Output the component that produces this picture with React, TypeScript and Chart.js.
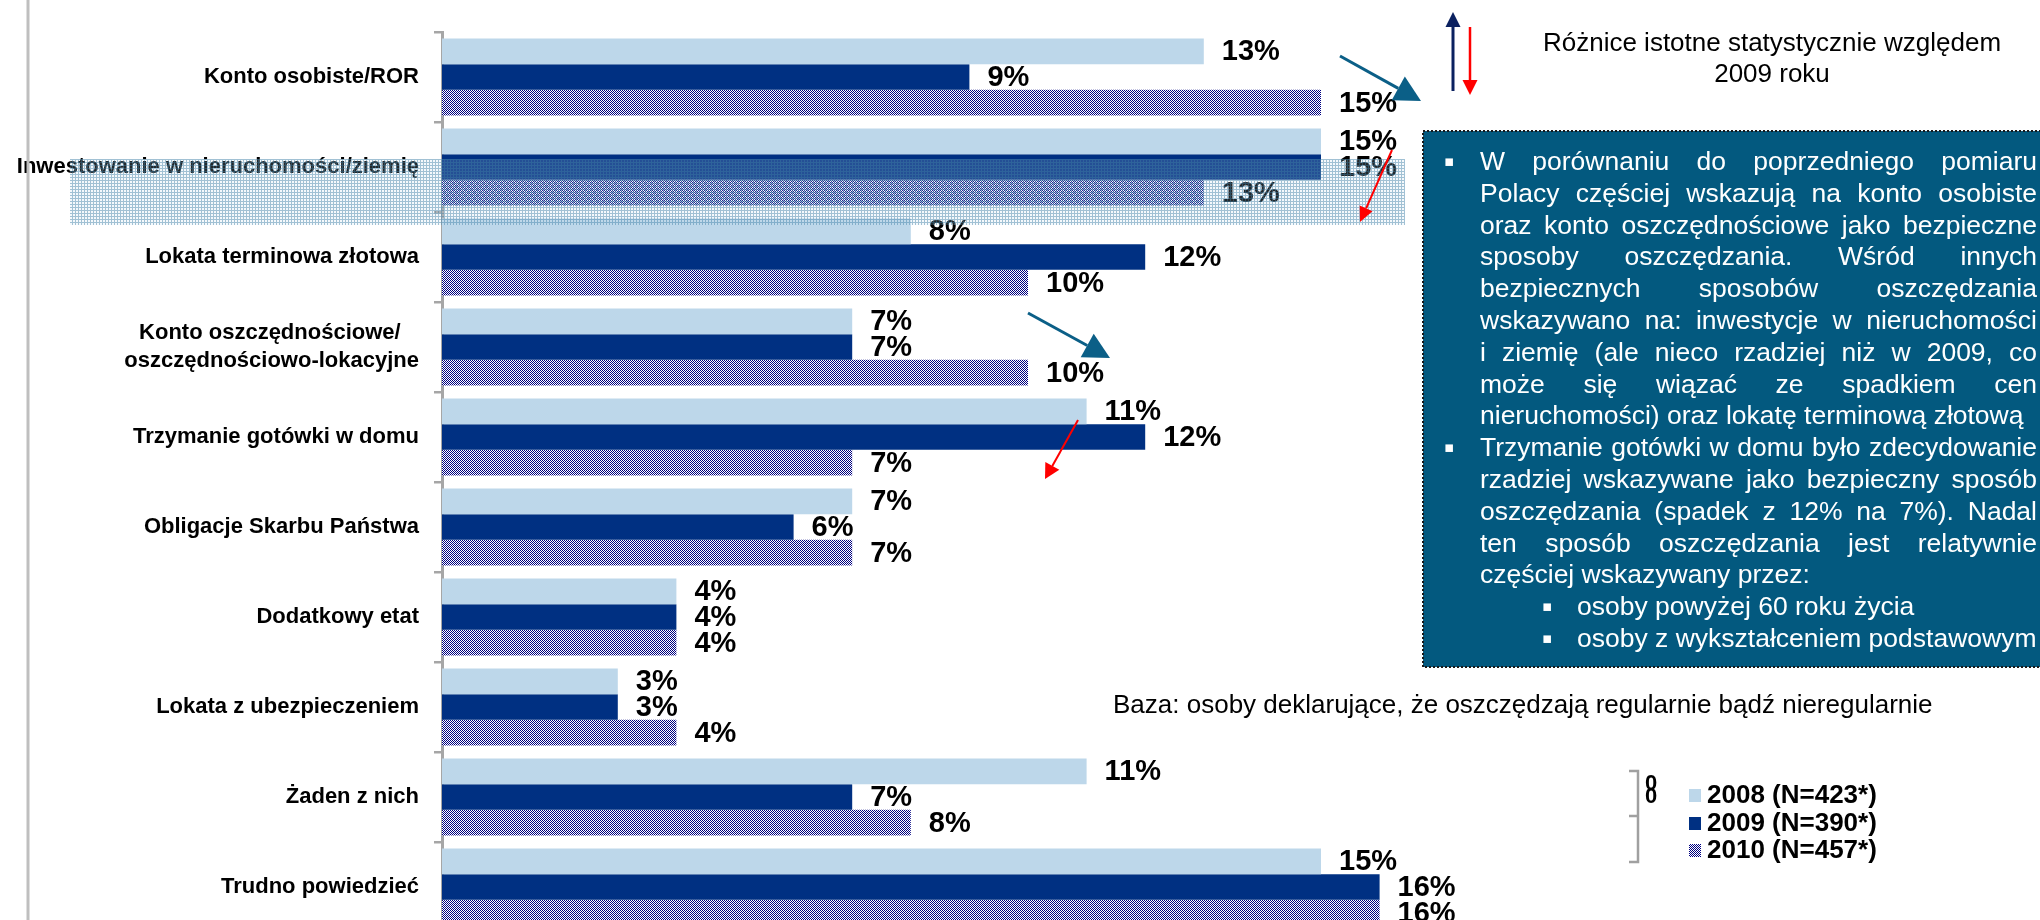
import React, { useEffect, useRef } from 'react';
import { Chart, registerables } from 'chart.js';

Chart.register(...registerables);

const FONT = '"Liberation Sans", Arial, Helvetica, sans-serif';

// ---------- data ----------
const categories: (string | string[])[] = [
  'Konto osobiste/ROR',
  'Inwestowanie w nieruchomości/ziemię',
  'Lokata terminowa złotowa',
  ['Konto oszczędnościowe/', 'oszczędnościowo-lokacyjne'],
  'Trzymanie gotówki w domu',
  'Obligacje Skarbu Państwa',
  'Dodatkowy etat',
  'Lokata z ubezpieczeniem',
  'Żaden z nich',
  'Trudno powiedzieć',
];
const series2008 = [13, 15, 8, 7, 11, 7, 4, 3, 11, 15];
const series2009 = [9, 15, 12, 7, 12, 6, 4, 3, 7, 16];
const series2010 = [15, 13, 10, 10, 7, 7, 4, 4, 8, 16];
const seriesLabels = ['2008 (N=423*)', '2009 (N=390*)', '2010 (N=457*)'];

const keyTitle = ['Różnice istotne statystycznie względem', '2009 roku'];
const baseNote = 'Baza: osoby deklarujące, że oszczędzają regularnie bądź nieregularnie';
const noteLines = [
  { text: 'W porównaniu do poprzedniego pomiaru', bullet: true, justify: true },
  { text: 'Polacy częściej wskazują na konto osobiste', justify: true },
  { text: 'oraz konto oszczędnościowe jako bezpieczne', justify: true },
  { text: 'sposoby oszczędzania. Wśród innych', justify: true },
  { text: 'bezpiecznych sposobów oszczędzania', justify: true },
  { text: 'wskazywano na: inwestycje w nieruchomości', justify: true },
  { text: 'i ziemię (ale nieco rzadziej niż w 2009, co', justify: true },
  { text: 'może się wiązać ze spadkiem cen', justify: true },
  { text: 'nieruchomości) oraz lokatę terminową złotową', justify: false },
  { text: 'Trzymanie gotówki w domu było zdecydowanie', bullet: true, justify: true },
  { text: 'rzadziej wskazywane jako bezpieczny sposób', justify: true },
  { text: 'oszczędzania (spadek z 12% na 7%). Nadal', justify: true },
  { text: 'ten sposób oszczędzania jest relatywnie', justify: true },
  { text: 'częściej wskazywany przez:', justify: false },
  { text: 'osoby powyżej 60 roku życia', sub: true },
  { text: 'osoby z wykształceniem podstawowym', sub: true },
];

// ---------- helpers ----------
function makePattern(draw: (c: CanvasRenderingContext2D) => void, size: number) {
  const c = document.createElement('canvas');
  c.width = size;
  c.height = size;
  const cx = c.getContext('2d')!;
  draw(cx);
  return cx.createPattern(c, 'repeat')!;
}

function centerMultiline(label: string | string[]): string | string[] {
  if (!Array.isArray(label)) return label;
  const c = document.createElement('canvas').getContext('2d')!;
  c.font = `bold 22px ${FONT}`;
  const widths = label.map((l) => c.measureText(l).width);
  const maxW = Math.max(...widths);
  const sp = c.measureText(' ').width;
  return label.map((l, i) => l + ' '.repeat(Math.round((maxW - widths[i]) / 2 / sp)));
}

function arrow(
  ctx: CanvasRenderingContext2D,
  x1: number, y1: number, x2: number, y2: number,
  color: string, lw: number, headLen: number, headHalf: number
) {
  const a = Math.atan2(y2 - y1, x2 - x1);
  const bx = x2 - headLen * Math.cos(a);
  const by = y2 - headLen * Math.sin(a);
  ctx.strokeStyle = color;
  ctx.lineWidth = lw;
  ctx.beginPath();
  ctx.moveTo(x1, y1);
  ctx.lineTo(bx, by);
  ctx.stroke();
  ctx.fillStyle = color;
  ctx.beginPath();
  ctx.moveTo(x2, y2);
  ctx.lineTo(bx + headHalf * Math.sin(a), by - headHalf * Math.cos(a));
  ctx.lineTo(bx - headHalf * Math.sin(a), by + headHalf * Math.cos(a));
  ctx.closePath();
  ctx.fill();
}

function justifyLine(ctx: CanvasRenderingContext2D, text: string, x0: number, x1: number, y: number, justify: boolean) {
  if (!justify) {
    ctx.fillText(text, x0, y);
    return;
  }
  const words = text.split(' ');
  const widths = words.map((w) => ctx.measureText(w).width);
  const total = widths.reduce((s, w) => s + w, 0);
  const gap = words.length > 1 ? (x1 - x0 - total) / (words.length - 1) : 0;
  let x = x0;
  words.forEach((w, i) => {
    ctx.fillText(w, x, y);
    x += widths[i] + gap;
  });
}

// ---------- plugins ----------
const valueLabels = {
  id: 'valueLabels',
  afterDatasetsDraw(chart: any) {
    const ctx: CanvasRenderingContext2D = chart.ctx;
    ctx.save();
    ctx.font = `bold 29px ${FONT}`;
    ctx.fillStyle = '#000';
    ctx.textAlign = 'left';
    ctx.textBaseline = 'middle';
    chart.data.datasets.forEach((ds: any, di: number) => {
      const meta = chart.getDatasetMeta(di);
      meta.data.forEach((bar: any, i: number) => {
        const p = bar.getProps(['x', 'y'], true);
        ctx.fillText(`${ds.data[i]}%`, p.x + 18, p.y + 1);
      });
    });
    ctx.restore();
  },
};

const annotations = {
  id: 'annotations',
  afterDraw(chart: any) {
    const ctx: CanvasRenderingContext2D = chart.ctx;
    ctx.save();

    // left frame line
    ctx.strokeStyle = '#BFBFBF';
    ctx.lineWidth = 3;
    ctx.beginPath();
    ctx.moveTo(28, 0);
    ctx.lineTo(28, 934);
    ctx.stroke();

    // highlight band
    const hl = makePattern((c) => {
      c.fillStyle = 'rgba(200,222,238,0.18)';
      c.fillRect(0, 0, 3, 3);
      c.fillStyle = 'rgba(60,125,165,0.45)';
      c.fillRect(0, 0, 3, 1);
      c.fillRect(0, 1, 1, 2);
    }, 3);
    ctx.fillStyle = hl;
    ctx.fillRect(70, 159, 1405 - 70, 225 - 159);

    // key arrows
    arrow(ctx, 1453, 91, 1453, 12, '#0B2160', 3, 15, 7.5);
    arrow(ctx, 1470, 27, 1470, 95, '#FF0000', 2.5, 15, 7.5);

    // teal arrows
    arrow(ctx, 1340, 56, 1421, 101, '#0B5F87', 3, 26, 13.5);
    arrow(ctx, 1028, 313, 1110, 358, '#0B5F87', 3, 26, 13.5);
    // red arrows
    arrow(ctx, 1392, 150, 1360, 222, '#FF0000', 2, 15, 7);
    arrow(ctx, 1078, 420, 1045, 479, '#FF0000', 2, 15, 8);

    // key title
    ctx.fillStyle = '#000';
    ctx.font = `26px ${FONT}`;
    ctx.textAlign = 'center';
    ctx.textBaseline = 'alphabetic';
    ctx.fillText(keyTitle[0], 1772, 51);
    ctx.fillText(keyTitle[1], 1772, 82);

    // text box
    ctx.fillStyle = '#03597F';
    ctx.fillRect(1423, 131, 700, 667 - 131);
    ctx.strokeStyle = '#1a1a1a';
    ctx.lineWidth = 2;
    ctx.setLineDash([2, 2]);
    ctx.strokeRect(1423, 131, 700, 667 - 131);
    ctx.setLineDash([]);

    ctx.textAlign = 'left';
    ctx.fillStyle = '#FFFFFF';
    noteLines.forEach((ln: any, i) => {
      const y = 170 + i * 31.8;
      if (ln.bullet || ln.sub) {
        ctx.font = `15px "DejaVu Sans", ${FONT}`;
        ctx.fillText('▪', ln.sub ? 1542 : 1444, y - 4);
      }
      ctx.font = `26.5px ${FONT}`;
      const x0 = ln.sub ? 1577 : 1480;
      justifyLine(ctx, ln.text, x0, 2037, y, !!ln.justify);
    });

    // base note
    ctx.fillStyle = '#000';
    ctx.font = `26px ${FONT}`;
    ctx.fillText(baseNote, 1113, 713);

    // legend
    ctx.strokeStyle = '#A0A0A0';
    ctx.lineWidth = 2.5;
    ctx.beginPath();
    ctx.moveTo(1629, 771);
    ctx.lineTo(1638, 771);
    ctx.lineTo(1638, 862);
    ctx.lineTo(1629, 862);
    ctx.moveTo(1629, 816);
    ctx.lineTo(1638, 816);
    ctx.stroke();
    ctx.fillStyle = '#000';
    ctx.font = `bold 22px ${FONT}`;
    ctx.textBaseline = 'middle';
    ctx.fillText('0', 1645, 784);
    ctx.fillText('0', 1645, 797);

    const rows = [795, 823, 850];
    chart.data.datasets.forEach((ds: any, i: number) => {
      ctx.fillStyle = ds.backgroundColor;
      ctx.fillRect(1689, rows[i] - 6, 12, 13);
      ctx.fillStyle = '#000';
      ctx.font = `bold 26px ${FONT}`;
      ctx.fillText(ds.label, 1707, rows[i] + 1);
    });

    ctx.restore();
  },
};

export default function App() {
  const ref = useRef<HTMLCanvasElement>(null);

  useEffect(() => {
    const canvas = ref.current;
    if (!canvas) return;
    const checker = makePattern((c) => {
      c.fillStyle = '#FFFFFF';
      c.fillRect(0, 0, 2, 2);
      c.fillStyle = '#000080';
      c.fillRect(0, 0, 1, 1);
      c.fillRect(1, 1, 1, 1);
    }, 2);

    const chart = new Chart(canvas, {
      type: 'bar',
      data: {
        labels: categories as any,
        datasets: [
          { label: seriesLabels[0], data: series2008, backgroundColor: '#BDD7EA' },
          { label: seriesLabels[1], data: series2009, backgroundColor: '#003082' },
          { label: seriesLabels[2], data: series2010, backgroundColor: checker as any },
        ],
      },
      options: {
        indexAxis: 'y',
        responsive: false,
        animation: false,
        devicePixelRatio: 1,
        layout: { padding: { left: 0, right: 15.8, top: 32, bottom: 2 } },
        datasets: { bar: { categoryPercentage: 0.856, barPercentage: 1 } },
        scales: {
          x: { display: false, min: 0, max: 27 },
          y: {
            z: 1,
            afterFit: (s: any) => {
              s.width = 442;
              s.paddingTop = 0;
              s.paddingBottom = 0;
            },
            border: { display: true, color: '#A6A6A6', width: 3 },
            grid: {
              offset: true,
              drawOnChartArea: false,
              drawTicks: true,
              tickLength: 8,
              color: '#A6A6A6',
              lineWidth: 2.5,
            },
            ticks: {
              autoSkip: false,
              padding: 15,
              color: '#000',
              font: { family: FONT, size: 22, weight: 'bold', lineHeight: 1.3 },
              callback: (_v: any, i: number) => centerMultiline(categories[i]),
            },
          },
        },
        plugins: {
          legend: { display: false },
          tooltip: { enabled: false },
        },
      } as any,
      plugins: [valueLabels, annotations],
    });
    return () => chart.destroy();
  }, []);

  return (
    <div
      style={{
        position: 'fixed',
        left: 0,
        top: 0,
        width: 2040,
        height: 920,
        overflow: 'hidden',
        background: '#fff',
      }}
    >
      <canvas ref={ref} width={2040} height={934} style={{ display: 'block', width: 2040, height: 934 }} />
    </div>
  );
}
